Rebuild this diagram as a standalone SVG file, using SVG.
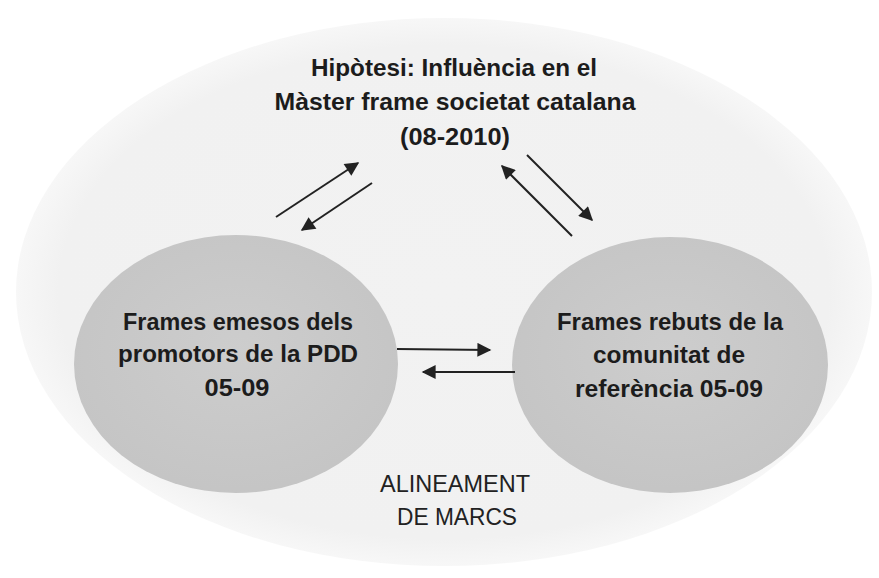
<svg xmlns="http://www.w3.org/2000/svg" width="879" height="578" viewBox="0 0 879 578">
<defs>
<marker id="ah" viewBox="0 0 10 10" refX="9" refY="5" markerWidth="8.5" markerHeight="7" markerUnits="strokeWidth" orient="auto">
<path d="M0,0 L10,5 L0,10 z" fill="#222"/>
</marker>
<radialGradient id="cg" cx="50%" cy="45%" r="60%">
<stop offset="0" stop-color="#cdcdcd"/>
<stop offset="1" stop-color="#c4c4c4"/>
</radialGradient>
<radialGradient id="bg" cx="50%" cy="50%" r="50%">
<stop offset="0" stop-color="#f2f2f2"/>
<stop offset="0.9" stop-color="#f1f1f1"/>
<stop offset="1" stop-color="#f7f7f7"/>
</radialGradient>
</defs>
<style>
.b{font-family:"Liberation Sans",Arial,sans-serif;font-weight:bold;fill:#1c1c1c;text-anchor:middle}
.r{font-family:"Liberation Sans",Arial,sans-serif;fill:#222;text-anchor:middle}
.c{stroke:#222;stroke-width:2;fill:none;marker-end:url(#ah)}
</style>
<rect width="879" height="578" fill="#ffffff"/>
<g id="frame">
<ellipse cx="444" cy="292" rx="428" ry="274" fill="url(#bg)"/>
</g>
<g id="hipotesi">
<text class="b" font-size="24"><tspan x="454" y="76" textLength="286" lengthAdjust="spacingAndGlyphs">Hipòtesi: Influència en el</tspan><tspan x="455" y="110" textLength="361" lengthAdjust="spacingAndGlyphs">Màster frame societat catalana</tspan><tspan x="455" y="145" textLength="110" lengthAdjust="spacingAndGlyphs">(08-2010)</tspan></text>
</g>
<g id="emesos">
<ellipse cx="236" cy="364" rx="162" ry="129" fill="url(#cg)"/>
<text class="b" font-size="24"><tspan x="238" y="330" textLength="230" lengthAdjust="spacingAndGlyphs">Frames emesos dels</tspan><tspan x="238" y="362" textLength="240" lengthAdjust="spacingAndGlyphs">promotors de la PDD</tspan><tspan x="237" y="396" textLength="65" lengthAdjust="spacingAndGlyphs">05-09</tspan></text>
</g>
<g id="rebuts">
<ellipse cx="670" cy="365" rx="158" ry="128" fill="url(#cg)"/>
<text class="b" font-size="24"><tspan x="670" y="330" textLength="226" lengthAdjust="spacingAndGlyphs">Frames rebuts de la</tspan><tspan x="669" y="363" textLength="152" lengthAdjust="spacingAndGlyphs">comunitat de</tspan><tspan x="669" y="397" textLength="188" lengthAdjust="spacingAndGlyphs">referència 05-09</tspan></text>
</g>
<g id="alineament">
<text class="r" font-size="23"><tspan x="455" y="492" textLength="150" lengthAdjust="spacingAndGlyphs">ALINEAMENT</tspan><tspan x="457" y="525" textLength="120" lengthAdjust="spacingAndGlyphs">DE MARCS</tspan></text>
</g>
<g id="connectors">
<line class="c" x1="276" y1="217" x2="358" y2="163"/>
<line class="c" x1="372" y1="183" x2="302" y2="230"/>
<line class="c" x1="572" y1="236" x2="502" y2="166"/>
<line class="c" x1="527" y1="155" x2="592" y2="220"/>
<line class="c" x1="397" y1="349" x2="490" y2="350"/>
<line class="c" x1="515" y1="372" x2="423" y2="372"/>
</g>
</svg>
